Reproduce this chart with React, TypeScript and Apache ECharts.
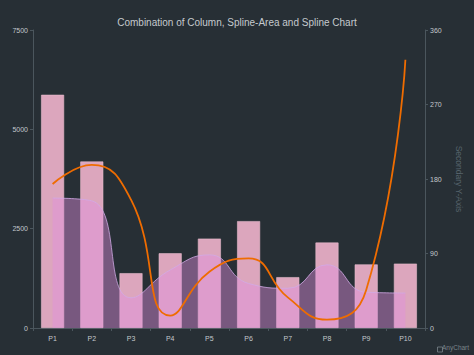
import React, { useEffect, useRef } from "react";
import * as echarts from "echarts";

const categories = ["P1", "P2", "P3", "P4", "P5", "P6", "P7", "P8", "P9", "P10"];
const columnValues = [5870, 4190, 1380, 1880, 2250, 2690, 1280, 2150, 1600, 1620];
const areaValues = [3270, 3200, 760, 1460, 1840, 1120, 1000, 1590, 900, 880];
const lineValues = [174, 197, 155, 15, 68, 84, 37, 10, 46, 324];
const leftTicks = { min: 0, max: 7500, interval: 2500 };
const rightTicks = { min: 0, max: 360, interval: 90 };

const FONT = "'Liberation Sans', Arial, Helvetica, sans-serif";

export default function App() {
  const ref = useRef<HTMLDivElement>(null);
  useEffect(() => {
    if (!ref.current) return;
    const chart = echarts.init(ref.current, undefined, { renderer: "svg" });
    const axisLine = { show: true, lineStyle: { color: "#4b565d", width: 1 } };
    const axisLabel = {
      color: "#c3c8cc",
      fontSize: 7,
      fontFamily: FONT,
      formatter: (v: number | string) => String(v),
    };
    chart.setOption({
      animation: false,
      backgroundColor: "#272f35",
      textStyle: { fontFamily: FONT },
      title: {
        text: "Combination of Column, Spline-Area and Spline Chart",
        left: "center",
        top: 12,
        textStyle: { color: "#c5cace", fontSize: 10, fontWeight: "normal", fontFamily: FONT },
      },
      grid: { left: 33, right: 49, top: 30, bottom: 27 },
      xAxis: {
        type: "category",
        data: categories,
        boundaryGap: true,
        axisLine,
        axisTick: { show: true, length: 3, lineStyle: { color: "#4b565d" } },
        axisLabel: { ...axisLabel, margin: 7 },
        splitLine: { show: false },
      },
      yAxis: [
        {
          type: "value",
          min: leftTicks.min,
          max: leftTicks.max,
          interval: leftTicks.interval,
          position: "left",
          axisLine,
          axisTick: { show: true, length: 3, lineStyle: { color: "#4b565d" } },
          axisLabel: { ...axisLabel, margin: 5 },
          splitLine: { show: false },
        },
        {
          type: "value",
          min: rightTicks.min,
          max: rightTicks.max,
          interval: rightTicks.interval,
          position: "right",
          name: "Secondary Y-Axis",
          nameLocation: "middle",
          nameRotate: -90,
          nameGap: 29,
          nameTextStyle: { color: "#56636b", fontSize: 8.5, fontFamily: FONT },
          axisLine,
          axisTick: { show: true, length: 3, lineStyle: { color: "#4b565d" } },
          axisLabel: { ...axisLabel, margin: 5 },
          splitLine: { show: false },
        },
      ],
      series: [
        {
          type: "bar",
          data: columnValues,
          barWidth: 23,
          yAxisIndex: 0,
          z: 1,
          itemStyle: { color: "#dca6bd", borderColor: "#e8bccd", borderWidth: 0.6 },
        },
        {
          type: "line",
          data: areaValues,
          yAxisIndex: 0,
          smooth: 0.5,
          showSymbol: false,
          symbol: "none",
          z: 2,
          lineStyle: { color: "rgba(210,170,230,0.8)", width: 1 },
          areaStyle: { color: "rgba(225,142,222,0.62)" },
        },
        {
          type: "line",
          data: lineValues,
          yAxisIndex: 1,
          smooth: 0.5,
          showSymbol: false,
          symbol: "none",
          z: 3,
          lineStyle: { color: "#ef6c00", width: 1.8 },
        },
      ],
      graphic: [
        {
          type: "rect",
          left: 435,
          top: 344.5,
          shape: { width: 5, height: 5 },
          style: { fill: "none", stroke: "#7a848a", lineWidth: 0.8 },
        },
        {
          type: "text",
          left: 442,
          top: 343.5,
          style: { text: "AnyChart", fill: "#7a848a", fontSize: 6.5, fontFamily: FONT },
        },
      ],
    });
    return () => chart.dispose();
  }, []);
  return (
    <div
      ref={ref}
      style={{ position: "absolute", left: 0, top: 0, width: 474, height: 355 }}
    />
  );
}
